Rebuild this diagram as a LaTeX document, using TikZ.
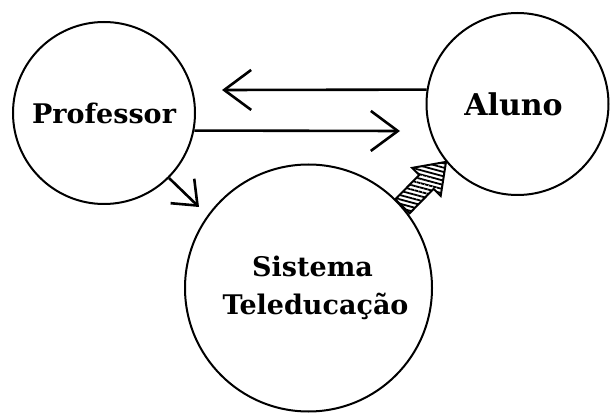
\documentclass[tikz,border=0pt]{standalone}
\usepackage{fontspec}
\setmainfont{DejaVu Serif}
\usetikzlibrary{arrows.meta,calc,patterns.meta}
\begin{document}
\begin{tikzpicture}[x=1pt,y=-1pt,
  ent/.style={circle,draw,line width=2pt,inner sep=0pt,align=center,
    font=\bfseries\fontsize{27}{38}\selectfont},
  arr/.style={line width=2.6pt,-{Straight Barb[length=27pt,width=40pt]}},
  arrsmall/.style={line width=2.6pt,-{Straight Barb[length=21pt,width=34pt]}},
  hatcharrow/.style={line width=2pt,line join=miter,
    pattern={Lines[angle=-15,distance=4.2pt,line width=1.8pt]}}]
\fill[white] (0,0) rectangle (611,414);
\useasboundingbox (0,0) rectangle (611,414);

\node[ent,minimum size=182pt] (prof) at (104,113) {Professor};
\node[ent,minimum size=182pt,font=\bfseries\fontsize{30}{38}\selectfont] (alu) at (517.5,104) {\hspace*{-8pt}Aluno};
\node[ent,minimum size=247pt] (sis) at (308.5,288) {\hspace*{8pt}Sistema\\\hspace*{14pt}Teleducação};

\coordinate (t1) at (222,90);
\coordinate (t2) at (400,131);
\coordinate (t3) at (199,207);

\draw[arr] (alu.171) -- (t1);
\draw[arr] (prof.-11.4) -- (t2);
\draw[arrsmall] (prof.-45) -- (t3);

% hatched block arrow from Sistema to Aluno
\coordinate (hb) at (sis.41);
\coordinate (ht) at (alu.219);
\coordinate (hc) at ($(hb)!0.55!(ht)$);
\draw[hatcharrow]
  ($(hb)!10pt!90:(ht)$) -- ($(hc)!10pt!90:(ht)$) -- ($(hc)!20pt!90:(ht)$)
  -- (ht) -- ($(hc)!20pt!-90:(ht)$) -- ($(hc)!10pt!-90:(ht)$)
  -- ($(hb)!10pt!-90:(ht)$) -- cycle;
\end{tikzpicture}
\end{document}
